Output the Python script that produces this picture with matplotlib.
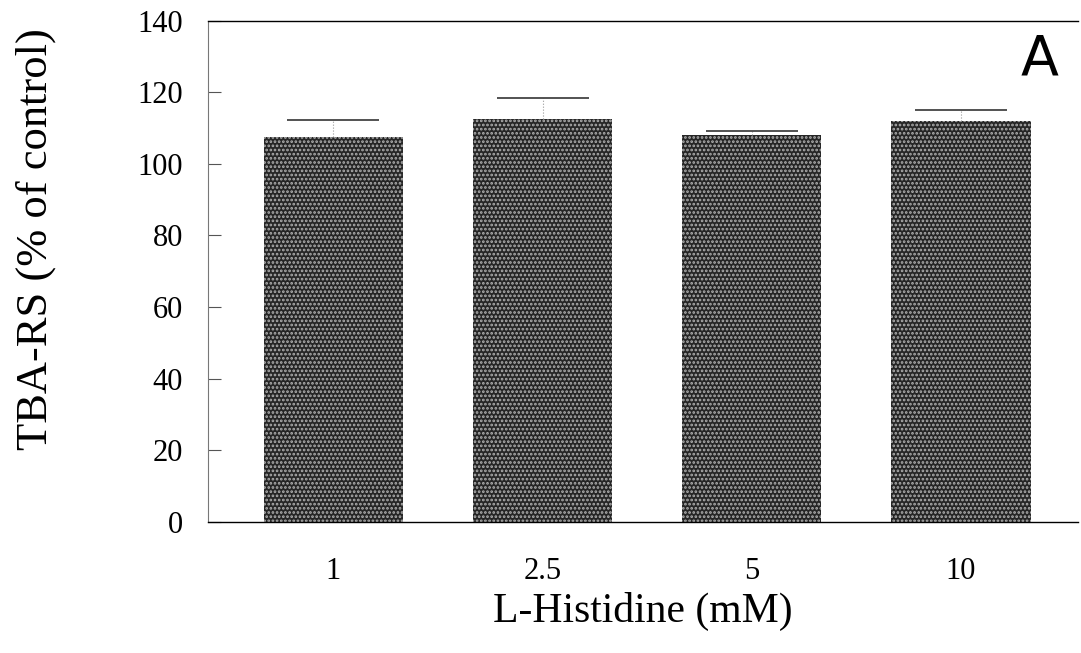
import numpy as np
import matplotlib
matplotlib.use("Agg")
import matplotlib.pyplot as plt

# data
doses = ['1', '2.5', '5', '10']
means = [107.5, 112.6, 108.0, 112.0]
errs = [4.8, 5.8, 1.2, 3.1]

plt.rcParams['font.family'] = 'Liberation Serif'
plt.rcParams['hatch.linewidth'] = 1.3

fig = plt.figure(figsize=(10.81, 6.53), dpi=100)
ax = fig.add_axes([0.1924, 0.2005, 0.805, 0.768])

x = np.arange(len(doses))
ax.bar(x, means, width=0.665, color='#262626', edgecolor='#b0b0b0',
       hatch='....', linewidth=0, zorder=2)
eb = ax.errorbar(x, means, yerr=[np.zeros(len(errs)), errs], fmt='none',
                 ecolor='#444444', elinewidth=0.8, capsize=33, capthick=1.3,
                 zorder=3)
eb[1][0].set_visible(False)   # no lower cap
eb[2][0].set_linestyle(':')
eb[2][0].set_color('#999999')

ax.set_xlim(-0.6, 3.56)
ax.set_ylim(0, 140)
ax.set_yticks([0, 20, 40, 60, 80, 100, 120, 140])
ax.set_xticks(x)
ax.set_xticklabels(doses)
ax.tick_params(axis='y', direction='in', length=9, width=0.8, pad=18,
               labelsize=22, color='#555555')
ax.tick_params(axis='x', length=0, pad=25, labelsize=22)

ax.spines['right'].set_visible(False)
ax.spines['left'].set_color('#777777')
ax.spines['left'].set_linewidth(0.8)
ax.spines['top'].set_linewidth(1.0)
ax.spines['bottom'].set_linewidth(1.0)

ax.set_ylabel('TBA-RS (% of control)', fontsize=32)
ax.yaxis.set_label_coords(-0.175, 0.565)
ax.set_xlabel('L-Histidine (mM)', fontsize=30)
ax.xaxis.set_label_coords(0.5, -0.14)

ax.text(0.977, 0.976, 'A', transform=ax.transAxes, fontsize=40,
        family='DejaVu Sans', ha='right', va='top')

plt.savefig('out.png', dpi=100)
